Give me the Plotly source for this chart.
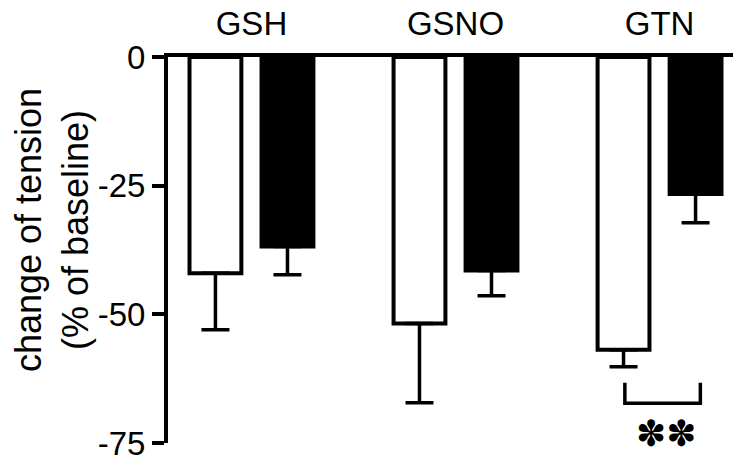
import plotly.graph_objects as go

categories = ["GSH", "GSNO", "GTN"]
control_values = [-42.0, -51.8, -56.9]
control_err = [11.0, 15.4, 3.3]
treated_values = [-36.8, -41.5, -26.6]
treated_err = [5.5, 4.9, 5.6]
y_ticks = [0, -25, -50, -75]
sig_group = 2
sig_top = -63.3
sig_bottom = -67.3
sig_label = "✽✽"

x = list(range(len(categories)))
FONT = "Liberation Sans, Arial, sans-serif"

fig = go.Figure()
fig.add_trace(go.Bar(
    x=x, y=control_values,
    marker=dict(color="white", line=dict(color="black", width=4)),
    error_y=dict(type="data", symmetric=False, array=[0]*3, arrayminus=control_err,
                 color="black", thickness=3.5, width=14),
    showlegend=False,
))
fig.add_trace(go.Bar(
    x=x, y=treated_values,
    marker=dict(color="black", line=dict(color="black", width=4)),
    error_y=dict(type="data", symmetric=False, array=[0]*3, arrayminus=treated_err,
                 color="black", thickness=3.5, width=14),
    showlegend=False,
))

x1 = sig_group - 0.17
x2 = sig_group + 0.20
fig.add_shape(type="path", xref="x", yref="y",
              path=f"M {x1},{sig_top} L {x1},{sig_bottom} L {x2},{sig_bottom} L {x2},{sig_top}",
              line=dict(color="black", width=3.5))
fig.add_annotation(x=sig_group + 0.03, y=-0.031, xref="x", yref="paper", text=sig_label,
                   showarrow=False, font=dict(family="DejaVu Sans", size=36, color="black"),
                   xanchor="center", yanchor="bottom", borderpad=0)

fig.add_annotation(x=-0.205, y=0.552, xref="paper", yref="paper",
                   text="change of tension<br>(% of baseline)", textangle=-90,
                   showarrow=False, font=dict(family=FONT, size=36, color="black"),
                   xanchor="center", yanchor="middle")

fig.update_layout(
    width=733, height=455,
    margin=dict(l=168, r=0, t=57, b=12, autoexpand=False),
    paper_bgcolor="white", plot_bgcolor="white",
    barmode="group", bargap=0.294, bargroupgap=0.28,
    font=dict(family=FONT, size=33, color="black"),
    xaxis=dict(range=[-0.409, 2.36], side="top", tickvals=x, ticktext=categories,
               showline=True, linecolor="black", linewidth=4, ticks="",
               showgrid=False, zeroline=False, ticklabelstandoff=5, automargin=False,
               tickfont=dict(family=FONT, size=33)),
    yaxis=dict(range=[-75, 0], tickvals=y_ticks, ticktext=[str(v) for v in y_ticks],
               showline=True, linecolor="black", linewidth=4, ticks="outside",
               ticklen=12, tickwidth=4, tickcolor="black", showgrid=False, zeroline=False,
               ticklabeloverflow="allow", automargin=False,
               tickfont=dict(family=FONT, size=33)),
)

fig.write_html("out.html")
